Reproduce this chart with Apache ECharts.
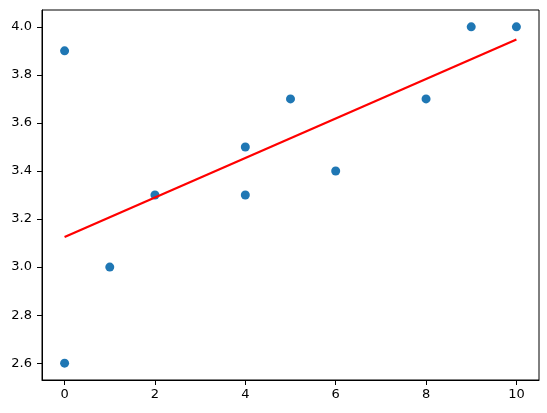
<!DOCTYPE html>
<html>
<head>
<meta charset="utf-8">
<script src="https://cdn.jsdelivr.net/npm/echarts@6/dist/echarts.min.js"></script>
<style>html,body{margin:0;padding:0;background:#fff}#c{width:547px;height:413px}</style>
</head>
<body>
<div id="c"></div>
<script>
const pointX = [0, 0, 1, 2, 4, 4, 5, 6, 8, 9, 10];
const pointY = [3.9, 2.6, 3.0, 3.3, 3.5, 3.3, 3.7, 3.4, 3.7, 4.0, 4.0];
const lineX = [0, 10];
const lineY = [3.125, 3.947];
const xTicks = [0, 2, 4, 6, 8, 10];
const yTicks = [2.6, 2.8, 3.0, 3.2, 3.4, 3.6, 3.8, 4.0];

const chart = echarts.init(document.getElementById('c'), null, {renderer: 'canvas'});
const font = {fontFamily: 'DejaVu Sans', fontSize: 13, color: '#000'};
chart.setOption({
  animation: false,
  backgroundColor: '#fff',
  grid: {left: 42, top: 10, width: 497, height: 370, show: true, borderColor: '#000', borderWidth: 1, backgroundColor: 'transparent'},
  xAxis: {
    type: 'value', min: -0.5, max: 10.5,
    splitLine: {show: false},
    axisLine: {show: true, onZero: false, lineStyle: {color: '#000', width: 1}},
    axisTick: {show: true, length: 5, lineStyle: {color: '#000'}, customValues: xTicks},
    axisLabel: Object.assign({margin: 8, customValues: xTicks, formatter: v => String(v)}, font)
  },
  yAxis: {
    type: 'value', min: 2.53, max: 4.07,
    splitLine: {show: false},
    axisLine: {show: true, onZero: false, lineStyle: {color: '#000', width: 1}},
    axisTick: {show: true, length: 5, lineStyle: {color: '#000'}, customValues: yTicks},
    axisLabel: Object.assign({margin: 10, customValues: yTicks, formatter: v => Number(v).toFixed(1)}, font)
  },
  series: [
    {
      type: 'scatter',
      data: pointX.map((x, i) => [x, pointY[i]]),
      symbolSize: 9,
      itemStyle: {color: '#1f77b4', opacity: 1},
      z: 2
    },
    {
      type: 'line',
      data: lineX.map((x, i) => [x, lineY[i]]),
      showSymbol: false,
      lineStyle: {color: '#ff0000', width: 2.2},
      z: 3
    }
  ]
});
</script>
</body>
</html>
